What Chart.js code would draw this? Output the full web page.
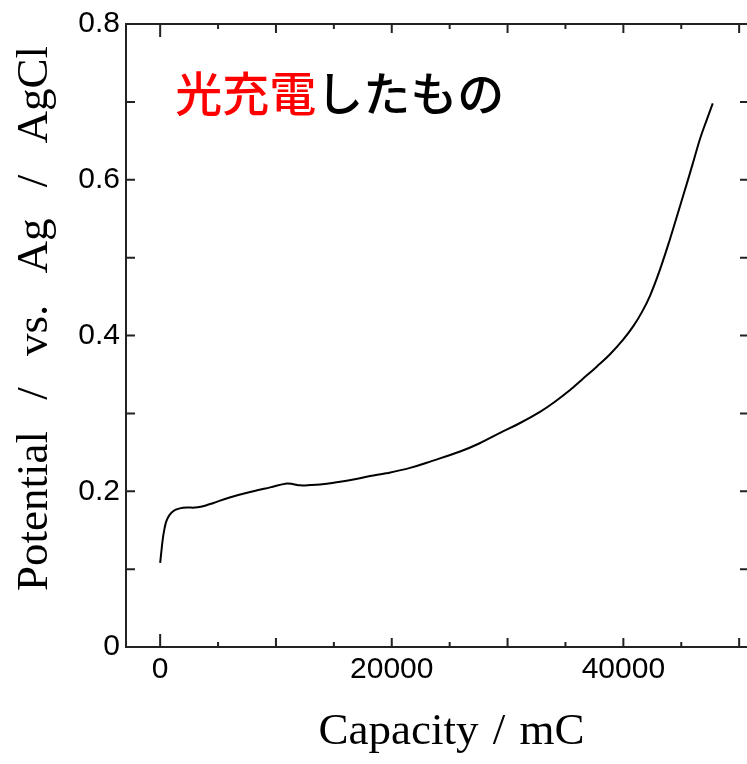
<!DOCTYPE html>
<html><head><meta charset="utf-8">
<script src="https://cdn.jsdelivr.net/npm/chart.js@4.4.1/dist/chart.umd.min.js"></script>
<style>html,body{margin:0;padding:0;overflow:hidden;background:#fff;}#wrap{width:752px;height:764px;}</style>
</head><body><div id="wrap"><canvas id="c" width="752" height="764" style="width:752px;height:764px"></canvas></div>
<script>
// ---- data ----
const capacity = [0,100,220,350,500,700,950,1300,1700,2300,3000,3500,4000,4600,6000,8060,9500,10940,11510,12090,13000,13810,15000,16690,18130,19500,21580,23500,25900,27500,29350,31000,32800,34000,35400,36400,37700,38850,40000,40860,41600,42300,43170,44030,44890,45500,46000,46630,47200,47720];
const potential = [0.108,0.122,0.138,0.150,0.160,0.167,0.172,0.176,0.178,0.179,0.179,0.180,0.182,0.185,0.192,0.200,0.205,0.210,0.209,0.2076,0.208,0.2088,0.211,0.215,0.2195,0.223,0.230,0.239,0.251,0.261,0.275,0.287,0.302,0.314,0.330,0.343,0.360,0.376,0.395,0.412,0.430,0.451,0.485,0.524,0.566,0.596,0.621,0.653,0.677,0.698];
const xTickLabels = [0, 20000, 40000];
const yTickLabels = [0, 0.2, 0.4, 0.6, 0.8];
const xMajorTicks = [0, 10000, 20000, 30000, 40000, 50000];
const xMinorTicks = [5000, 15000, 25000, 35000, 45000];
const yTickMarks = [0.1, 0.2, 0.3, 0.4, 0.5, 0.6, 0.7];
const xRange = [-2950, 50850];
const yRange = [0, 0.8];
const xTitle = 'Capacity / mC';
const yTitle = 'Potential / vs. Ag / AgCl';
const noteRed = '光充電';
const noteBlack = 'したもの';
const noteAt = [1300, 0.711];

function wrapTitle(scale, dx, dy, ws) {
  if (!scale || scale.__wrapped) return;
  const orig = scale.drawTitle;
  scale.drawTitle = function () {
    const c = this.ctx;
    c.save();
    c.translate(dx, dy);
    try { c.wordSpacing = ws + 'px'; } catch (e) {}
    orig.call(this);
    c.restore();
  };
  scale.__wrapped = true;
}

const frame = {
  id: 'frame',
  beforeDraw(chart) {
    wrapTitle(chart.scales.x, 14, 0, 3);
    wrapTitle(chart.scales.y, 0, -17, 20);
  },
  afterDatasetsDraw(chart) {
    const {ctx, chartArea: a, scales: {x, y}} = chart;
    ctx.save();
    ctx.strokeStyle = '#222';
    ctx.lineWidth = 2;
    ctx.strokeRect(a.left, a.top, a.right - a.left, a.bottom - a.top);
    ctx.beginPath();
    const xt = (v, len) => {
      const px = x.getPixelForValue(v);
      ctx.moveTo(px, a.bottom); ctx.lineTo(px, a.bottom - len);
      ctx.moveTo(px, a.top); ctx.lineTo(px, a.top + len);
    };
    xMajorTicks.forEach(v => xt(v, v === 0 ? 13 : 9));
    xMinorTicks.forEach(v => xt(v, 5));
    yTickMarks.forEach(v => {
      const py = y.getPixelForValue(v);
      ctx.moveTo(a.left, py); ctx.lineTo(a.left + 9, py);
      ctx.moveTo(a.right, py); ctx.lineTo(a.right - 9, py);
    });
    ctx.stroke();
    ctx.font = '500 47px "Noto Sans CJK JP"';
    ctx.textBaseline = 'middle';
    ctx.textAlign = 'left';
    const nx = x.getPixelForValue(noteAt[0]);
    const ny = y.getPixelForValue(noteAt[1]);
    ctx.fillStyle = '#ff0000';
    ctx.fillText(noteRed, nx, ny);
    const w = ctx.measureText(noteRed).width;
    ctx.fillStyle = '#000000';
    ctx.fillText(noteBlack, nx + w, ny);
    ctx.restore();
  }
};

const sans = '"Liberation Sans", Arial, sans-serif';
const serif = '"Liberation Serif", "Times New Roman", serif';

new Chart(document.getElementById('c'), {
  type: 'line',
  data: {
    datasets: [{
      data: capacity.map((c, i) => ({x: c, y: potential[i]})),
      borderColor: '#000000',
      borderWidth: 2,
      pointRadius: 0,
      fill: false,
      tension: 0.4
    }]
  },
  options: {
    responsive: false,
    devicePixelRatio: 1,
    animation: false,
    layout: {padding: {top: 20, right: 3, left: 0, bottom: 0}},
    plugins: {legend: {display: false}, tooltip: {enabled: false}},
    scales: {
      x: {
        type: 'linear', min: xRange[0], max: xRange[1],
        afterFit(s) { s.height = 117; },
        afterBuildTicks(s) { s.ticks = xTickLabels.map(v => ({value: v})); },
        grid: {display: false, drawTicks: false},
        border: {display: false},
        ticks: {font: {family: sans, size: 30}, color: '#000', padding: 5, autoSkip: false, maxRotation: 0, callback: v => String(v)},
        title: {display: true, text: xTitle, color: '#000', font: {family: serif, size: 45}, padding: {top: 0, bottom: 5}}
      },
      y: {
        type: 'linear', min: yRange[0], max: yRange[1],
        afterFit(s) { s.width = 126; },
        afterBuildTicks(s) { s.ticks = yTickLabels.map(v => ({value: v})); },
        grid: {display: false, drawTicks: false},
        border: {display: false},
        ticks: {font: {family: sans, size: 30}, color: '#000', padding: 6, autoSkip: false, callback: v => String(v)},
        title: {display: true, text: yTitle, color: '#000', font: {family: serif, size: 45}, padding: {top: 8, bottom: 0}}
      }
    }
  },
  plugins: [frame]
});
</script>
</body></html>
